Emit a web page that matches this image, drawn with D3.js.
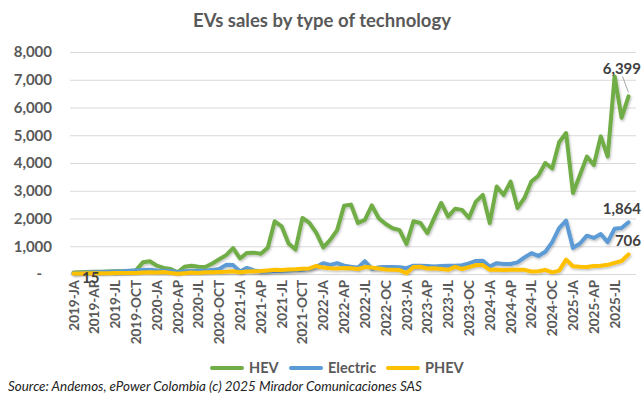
<!DOCTYPE html>
<html>
<head>
<meta charset="utf-8">
<script src="https://cdn.jsdelivr.net/npm/d3@7"></script>
<style>
    body { margin: 0; background: #fff; }
    svg { display: block; font-family: Lato, "Open Sans", sans-serif; }
</style>
</head>
<body>
<div id="chart"></div>
<script>
// monthly sales, Jan 2019 .. Sep 2025
var years = [2019, 2020, 2021, 2022, 2023, 2024, 2025];
var monthNames = ["01","02","03","04","05","06","07","08","09","10","11","12"];

var tickLabels = ["2019-JA","2019-AP","2019-JL","2019-OCT","2020-JA","2020-AP","2020-JL","2020-OCT",
    "2021-JA","2021-AP","2021-JL","2021-OCT","2022-JA","2022-AP","2022-JL","2022-OC",
    "2023-JA","2023-AP","2023-JL","2023-OC","2024-JA","2024-AP","2024-JL","2024-OC",
    "2025-JA","2025-AP","2025-JL"];

var hev = [50,60,70,80,80,90,100,100,110,130,420,460,
    300,220,180,60,260,300,260,250,380,530,680,930,
    560,760,770,730,950,1900,1720,1100,880,2020,1840,1480,
    960,1230,1580,2460,2500,1840,1950,2470,2010,1800,1650,1580,
    1080,1900,1840,1470,2020,2560,2070,2350,2310,2020,2610,2850,
    1840,3150,2850,3330,2380,2740,3330,3540,4000,3800,4750,5080,
    2920,3570,4230,3930,4960,4230,7120,5630,6399];

var electric = [30,40,50,60,70,80,90,100,120,130,140,150,
    130,120,110,60,100,110,120,120,140,180,330,320,
    90,220,130,90,90,110,120,130,140,150,190,260,
    390,330,390,300,260,230,460,190,240,250,250,240,
    210,300,300,290,270,290,300,300,320,380,470,480,
    270,390,360,360,420,600,750,650,800,1150,1650,1920,
    940,1100,1380,1300,1440,1150,1630,1660,1864];

var phev = [15,20,25,25,30,30,35,35,40,40,50,60,
    50,70,40,10,30,50,40,60,60,70,80,100,
    60,90,100,110,130,150,140,160,170,190,200,290,
    230,210,200,220,210,180,250,230,200,160,150,140,
    30,250,260,200,210,180,150,260,180,250,320,320,
    150,150,140,150,150,150,90,100,150,60,120,520,
    280,260,250,290,300,330,400,470,706];

var categories = [];
years.forEach(function (y) {
    monthNames.forEach(function (m) {
        if (categories.length < hev.length) categories.push(y + "-" + m);
    });
});

var seriesList = [
    {name: "HEV", values: hev, color: "#70ad47"},
    {name: "Electric", values: electric, color: "#5b9bd5"},
    {name: "PHEV", values: phev, color: "#ffc000"}
];

var width = 644, height = 397;
var gridLeft = 70, gridRight = 636;
var textColor = "#595959";

var svg = d3.select("#chart").append("svg")
    .attr("width", width)
    .attr("height", height);

var x = d3.scalePoint()
    .domain(categories)
    .range([73.5, 628.5]);

var y = d3.scaleLinear()
    .domain([0, 8000])
    .range([274, 52]);

// title
svg.append("text")
    .attr("x", 322)
    .attr("y", 27)
    .attr("text-anchor", "middle")
    .attr("font-size", 18.5)
    .attr("font-weight", "bold")
    .attr("fill", textColor)
    .text("EVs sales by type of technology");

// gridlines + y labels
var yAxis = svg.append("g")
    .attr("transform", "translate(" + gridLeft + ",0)")
    .call(d3.axisLeft(y)
        .tickValues(d3.range(0, 8001, 1000))
        .tickSize(-(gridRight - gridLeft))
        .tickPadding(18)
        .tickFormat(function (d) { return d === 0 ? "-" : d3.format(",")(d); }));
yAxis.select(".domain").remove();
yAxis.selectAll(".tick line").attr("stroke", "#d9d9d9").attr("stroke-width", 1);
yAxis.selectAll(".tick text")
    .attr("fill", textColor)
    .attr("font-size", 15)
    .attr("font-weight", "bold")
    .attr("font-family", "Lato, sans-serif")
    .attr("dx", function (d) { return d === 0 ? -10 : 0; });

// x labels, rotated
var xAxis = svg.append("g");
xAxis.selectAll("text")
    .data(tickLabels)
    .enter().append("text")
    .attr("transform", function (d, i) {
        return "translate(" + (x(categories[i * 3]) + 5) + ",280) rotate(-90)";
    })
    .attr("text-anchor", "end")
    .attr("font-size", 13.5)
    .attr("font-weight", "bold")
    .attr("fill", textColor)
    .text(function (d) { return d; });

// lines
var line = d3.line()
    .x(function (d, i) { return x(categories[i]); })
    .y(function (d) { return y(d); });

svg.append("defs").append("filter")
    .attr("id", "shadow")
    .append("feDropShadow")
    .attr("dx", 1).attr("dy", 1.5).attr("stdDeviation", 1)
    .attr("flood-color", "#000").attr("flood-opacity", 0.25);

svg.selectAll(".series")
    .data(seriesList)
    .enter().append("path")
    .attr("class", "series")
    .attr("fill", "none")
    .attr("stroke", function (d) { return d.color; })
    .attr("stroke-width", 4)
    .attr("stroke-linejoin", "round")
    .attr("stroke-linecap", "round")
    .attr("filter", "url(#shadow)")
    .attr("d", function (d) { return line(d.values); });

// data labels
var last = categories.length - 1;
var labelFmt = d3.format(",");

svg.append("line")
    .attr("x1", x(categories[last]) - 6).attr("y1", y(hev[last]) - 20)
    .attr("x2", x(categories[last])).attr("y2", y(hev[last]) - 4)
    .attr("stroke", "#a6a6a6").attr("stroke-width", 1);

var dataLabels = [
    {text: labelFmt(hev[last]), x: 641, y: y(hev[last]) - 22},
    {text: labelFmt(electric[last]), x: 641, y: y(electric[last]) - 8},
    {text: labelFmt(phev[last]), x: 641, y: y(phev[last]) - 8},
    {text: labelFmt(phev[0]), x: x(categories[0]) + 26, y: y(phev[0]) + 9}
];
svg.selectAll(".dlabel")
    .data(dataLabels)
    .enter().append("text")
    .attr("class", "dlabel")
    .attr("x", function (d) { return d.x; })
    .attr("y", function (d) { return d.y; })
    .attr("text-anchor", "end")
    .attr("font-size", 15)
    .attr("font-weight", "bold")
    .attr("fill", "#404040")
    .text(function (d) { return d.text; });

// legend
var legendItems = [
    {name: "HEV", color: "#70ad47", x: 212},
    {name: "Electric", color: "#5b9bd5", x: 291},
    {name: "PHEV", color: "#ffc000", x: 388}
];
var legend = svg.selectAll(".legend")
    .data(legendItems)
    .enter().append("g")
    .attr("transform", function (d) { return "translate(" + d.x + ",368)"; });
legend.append("line")
    .attr("x1", 0).attr("x2", 30)
    .attr("stroke", function (d) { return d.color; })
    .attr("stroke-width", 4)
    .attr("stroke-linecap", "round");
legend.append("text")
    .attr("x", 37)
    .attr("dy", "0.35em")
    .attr("font-size", 14.5)
    .attr("font-weight", "bold")
    .attr("fill", textColor)
    .text(function (d) { return d.name; });

// source
svg.append("text")
    .attr("x", 8)
    .attr("y", 391)
    .attr("font-size", 13.4)
    .attr("font-style", "italic")
    .attr("fill", "#222")
    .text("Source: Andemos, ePower Colombia (c) 2025 Mirador Comunicaciones SAS");
</script>
</body>
</html>
